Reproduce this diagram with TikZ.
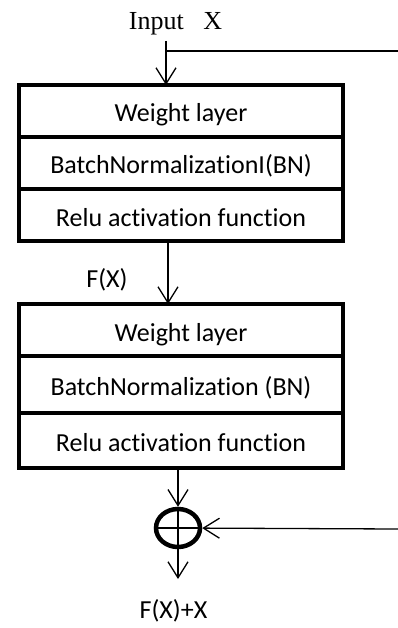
\documentclass[tikz,border=0pt]{standalone}
\usepackage{fontspec}
\setmainfont{Carlito}[Ligatures=NoCommon]
\newfontfamily\inputfont{Liberation Serif}
\usetikzlibrary{positioning,shapes.geometric,arrows.meta}

\begin{document}
\begin{tikzpicture}[%
			x=1pt,y=-1pt,
			font=\fontsize{26}{30}\selectfont,
			line width=1.3pt,
			>={Straight Barb[length=16pt,width=20pt]},
			node distance=0pt,
			layer/.style={%
				draw,
				line width=4pt,
				minimum width=324pt,
				minimum height=52pt,
				outer sep=0pt,
				text height=22pt,
				text depth=0pt
			},
			sum/.style={%
				draw,
				ellipse,
				line width=4.5pt,
				minimum width=44pt,
				minimum height=38pt
			}
			]
			\useasboundingbox (0,0) rectangle (398,628);

			% first block
			\node[layer] (1) at (181,111) {Weight layer};
			\node[layer, below=of 1] (2) {BatchNormalizationI(BN)};
			\node[layer, below=of 2] (3) {Relu activation function};

			% second block
			\node[layer] (4) at (181,330) {Weight layer};
			\node[layer, below=of 4, minimum height=57pt] (5) {BatchNormalization (BN)};
			\node[layer, below=of 5, minimum height=55pt] (6) {Relu activation function};

			\node[anchor=base, font={\fontsize{26}{30}\selectfont\inputfont}] (x) at (175.5,29.3) {Input\ \ \ X};
			\node[anchor=base] (fx) at (107,287) {F(X)};
			\node[sum] (add) at (178,528) {};
			\node[anchor=base] (out) at (173.5,618) {F(X)+X};

			\coordinate (start) at (166,41);
			\coordinate (split) at (166,51);
			\coordinate (skip1) at (398,51);
			\coordinate (skip2) at (398,529);
			\coordinate (outtip) at (178,579);

			\draw[->] (start) -- (1.north -| start);
			\draw (split) -- (skip1);
			\draw[->] ([xshift=-13pt]3.south) -- ([xshift=-13pt]4.north);
			\draw (add.west) -- (add.east) (add.north) -- (add.south);
			\draw[->] (6.south -| add) -- (add);
			\draw[->] (skip2) -- (add);
			\draw[->] (add) -- (outtip);
\end{tikzpicture}
\end{document}
